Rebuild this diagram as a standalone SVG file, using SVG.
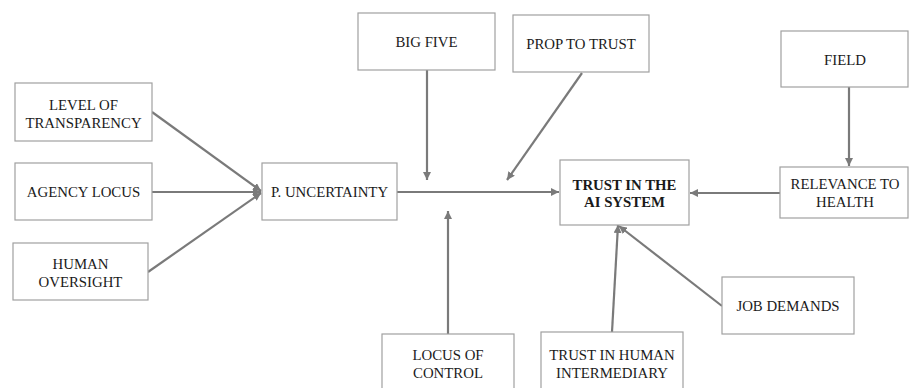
<svg xmlns="http://www.w3.org/2000/svg" width="909" height="388" viewBox="0 0 909 388">
<style>
.box{fill:#fff;stroke:#a0a0a0;stroke-width:1.2}
.t{font-family:"Liberation Serif","Times New Roman",serif;font-size:14.8px;fill:#1a1a1a;text-anchor:middle}
.b{font-weight:bold}
.c{stroke:#7a7a7a;stroke-width:2.2;fill:none;marker-end:url(#ah)}
</style>
<defs>
<marker id="ah" markerWidth="8" markerHeight="8" viewBox="0 0 10 10" refX="10" refY="5" orient="auto" markerUnits="userSpaceOnUse">
<path d="M0,0 L10,5 L0,10 Z" fill="#7a7a7a"/>
</marker>
</defs>
<rect width="909" height="388" fill="#fff"/>
<g id="connectors">
<line class="c" x1="152" y1="112" x2="261" y2="191"/>
<line class="c" x1="152" y1="192" x2="261" y2="192"/>
<line class="c" x1="148" y1="272" x2="261" y2="193"/>
<line class="c" x1="397" y1="192" x2="559" y2="192"/>
<line class="c" x1="427" y1="70" x2="427" y2="180"/>
<line class="c" x1="582" y1="73" x2="507" y2="180"/>
<line class="c" x1="448" y1="334" x2="448" y2="211"/>
<line class="c" x1="849" y1="87" x2="849" y2="166"/>
<line class="c" x1="780" y1="193" x2="690" y2="193"/>
<line class="c" x1="612" y1="332" x2="618" y2="225"/>
<line class="c" x1="722" y1="306" x2="619" y2="226"/>
</g>
<g id="level-of-transparency">
<rect class="box" x="15" y="83" width="137" height="58"/>
<text class="t" x="83.5" y="109.5">LEVEL OF</text>
<text class="t" x="83.5" y="127.5">TRANSPARENCY</text>
</g>
<g id="agency-locus">
<rect class="box" x="15" y="163" width="137" height="57"/>
<text class="t" x="83.5" y="197">AGENCY LOCUS</text>
</g>
<g id="human-oversight">
<rect class="box" x="13" y="243" width="135" height="57"/>
<text class="t" x="80.5" y="268.5">HUMAN</text>
<text class="t" x="80.5" y="286.5">OVERSIGHT</text>
</g>
<g id="p-uncertainty">
<rect class="box" x="262" y="163" width="135" height="57"/>
<text class="t" x="329.5" y="197">P. UNCERTAINTY</text>
</g>
<g id="big-five">
<rect class="box" x="358" y="13" width="137" height="57"/>
<text class="t" x="426.5" y="47">BIG FIVE</text>
</g>
<g id="prop-to-trust">
<rect class="box" x="513" y="15" width="136" height="57"/>
<text class="t" x="581" y="49">PROP TO TRUST</text>
</g>
<g id="trust-in-ai">
<rect class="box" x="560" y="160" width="129" height="65"/>
<text class="t b" x="624.5" y="190">TRUST IN THE</text>
<text class="t b" x="624.5" y="207">AI SYSTEM</text>
</g>
<g id="field">
<rect class="box" x="781" y="31" width="127" height="56"/>
<text class="t" x="845" y="65">FIELD</text>
</g>
<g id="relevance-to-health">
<rect class="box" x="780" y="167" width="128" height="51"/>
<text class="t" x="845" y="189">RELEVANCE TO</text>
<text class="t" x="845" y="207">HEALTH</text>
</g>
<g id="locus-of-control">
<rect class="box" x="382" y="334" width="132" height="60"/>
<text class="t" x="448" y="360">LOCUS OF</text>
<text class="t" x="448" y="378">CONTROL</text>
</g>
<g id="trust-in-human-intermediary">
<rect class="box" x="541" y="332" width="142" height="62"/>
<text class="t" x="612" y="360">TRUST IN HUMAN</text>
<text class="t" x="612" y="378">INTERMEDIARY</text>
</g>
<g id="job-demands">
<rect class="box" x="722" y="277" width="132" height="57"/>
<text class="t" x="788" y="311">JOB DEMANDS</text>
</g>
</svg>
